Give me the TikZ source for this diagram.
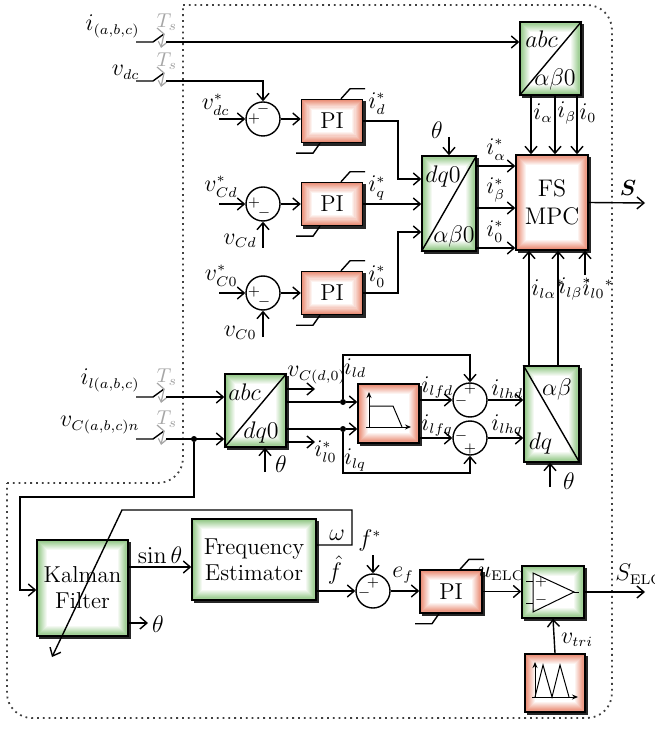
\documentclass[tikz,border=0pt]{standalone}
\usepackage{bm}
\usepackage{tikz}
\usetikzlibrary{arrows.meta,backgrounds}
\DeclareMathSizes{12}{12}{7}{5}

\definecolor{rimred}{rgb}{0.91,0.52,0.42}
\definecolor{rimgreen}{rgb}{0.55,0.77,0.50}

% block fill: shadow, coloured rim fading to a white centre
\newcommand{\blockfill}[2]{%
  \begin{pgfonlayer}{background}
    \fill[black!85] ([shift={(1.2pt,-1.2pt)}]#1.south west) rectangle ([shift={(1.2pt,-1.2pt)}]#1.north east);
    \foreach \k [evaluate=\k as \pc using int(100-10*\k), evaluate=\k as \d using 0.55*\k] in {0,...,10}
      \fill[#2!\pc!white] ([shift={(\d pt,\d pt)}]#1.south west) rectangle ([shift={(-\d pt,-\d pt)}]#1.north east);
  \end{pgfonlayer}}

% sampling switch: #1 name of its output, #2 height of the line
\newcommand{\sampler}[2]{%
  \draw[wire] (136,#2) -- (153,#2) -- (164,#2-8);
  \draw[gray!70, line width=0.6pt, ->, >={Straight Barb[length=2.5pt,width=4pt]}]
    (157,#2-14) -- (164,#2-8) -- (161,#2+6);
  \node[ts] (#1t) at (167,#2-20) {$T_s$};
  \coordinate (#1) at (166,#2);}

% saturation marks of a PI block
\newcommand{\pisat}[1]{%
  \draw[wire] ([xshift=4.5pt]#1.north) -- ++(4.5pt,5pt) -- ++(7.5pt,0pt);
  \draw[wire] ([xshift=-6pt]#1.south) -- ++(-3.5pt,-5pt) -- ++(-8.5pt,0pt);}

\begin{document}
\begin{tikzpicture}[
  x=0.5pt, y=-0.5pt,
  >={Straight Barb[length=3.5pt,width=6pt]},
  every node/.style={inner sep=1pt},
  wire/.style={draw, line width=0.7pt},
  arrow/.style={draw, line width=0.7pt, ->},
  icon/.style={draw, line width=0.5pt, >={Stealth[length=3pt,width=2.5pt]}},
  border/.style={draw=black!75, line width=0.9pt, dotted},
  blk/.style={draw, line width=0.7pt, inner sep=0pt, align=center,
    font=\fontsize{11.5}{13}\selectfont},
  blktxt/.style={font=\fontsize{12}{13}\selectfont},
  sumc/.style={circle, draw, line width=0.7pt, fill=white, minimum size=17pt, inner sep=0pt},
  sgn/.style={font=\fontsize{7}{7}\selectfont, inner sep=0pt},
  lbl/.style={font=\fontsize{12}{14}\selectfont},
  ts/.style={text=gray!70, font=\fontsize{10}{11}\selectfont},
  dot/.style={circle, fill, minimum size=3pt, inner sep=0pt}]

  \useasboundingbox (0,0) rectangle (654,731);

  % controller boundary
  \draw[border, rounded corners=12.5pt] (183,5) -- (612,5) -- (612,718) -- (7,718) -- (7,483);
  \draw[border, rounded corners=12.5pt] (7,483) -- (183,483) -- (183,5);

  % blocks
  \node[blk, minimum width=30.5pt, minimum height=36.5pt] (abcab) at (550.5,58.5) {};
  \node[blk, minimum width=27pt, minimum height=47.5pt] (dqab) at (449,203.5) {};
  \node[blk, minimum width=36pt, minimum height=47.5pt, font=\fontsize{12}{14}\selectfont] (mpc) at (552,202.5) {FS\\MPC};
  \node[blk, minimum width=30.5pt, minimum height=21.5pt] (pid) at (332,121) {PI};
  \node[blk, minimum width=30.5pt, minimum height=21.5pt] (piq) at (332,204) {PI};
  \node[blk, minimum width=30.5pt, minimum height=21.5pt] (pio) at (332,293) {PI};
  \node[blk, minimum width=30.5pt, minimum height=36.5pt] (abcdq) at (255.5,410.5) {};
  \node[blk, minimum width=30.5pt, minimum height=29.5pt] (lpf) at (388.5,413.5) {};
  \node[blk, minimum width=27.5pt, minimum height=48pt] (abdq) at (551.5,414) {};
  \node[blk, minimum width=45.5pt, minimum height=48pt] (kf) at (82.5,588) {Kalman\\Filter};
  \node[blk, minimum width=62pt, minimum height=40.5pt] (fe) at (254,559.5) {Frequency\\Estimator};
  \node[blk, minimum width=31pt, minimum height=21.5pt] (pie) at (451,591.5) {PI};
  \node[blk, minimum width=31pt, minimum height=26pt] (cmp) at (553,592) {};
  \node[blk, minimum width=30pt, minimum height=29pt] (tri) at (555,683) {};

  \blockfill{abcab}{rimgreen} \blockfill{dqab}{rimgreen} \blockfill{abcdq}{rimgreen}
  \blockfill{abdq}{rimgreen} \blockfill{kf}{rimgreen} \blockfill{fe}{rimgreen}
  \blockfill{cmp}{rimgreen}
  \blockfill{mpc}{rimred} \blockfill{pid}{rimred} \blockfill{piq}{rimred}
  \blockfill{pio}{rimred} \blockfill{lpf}{rimred} \blockfill{pie}{rimred}
  \blockfill{tri}{rimred}

  \pisat{pid} \pisat{piq} \pisat{pio} \pisat{pie}

  % transformation blocks: split line and frames
  \draw[wire] (abcab.south west) -- (abcab.north east);
  \node[blktxt] (abcab1) at (541.5,39) {$abc$};
  \node[blktxt] (abcab2) at (555,80) {$\alpha\beta0$};
  \draw[wire] (dqab.south west) -- (dqab.north east);
  \node[blktxt] (dqab1) at (443,177) {$dq0$};
  \node[blktxt] (dqab2) at (454,237) {$\alpha\beta0$};
  \draw[wire] (abcdq.south west) -- (abcdq.north east);
  \node[blktxt] (abcdq1) at (244.5,392) {$abc$};
  \node[blktxt] (abcdq2) at (261,432) {$dq0$};
  \draw[wire] (abdq.north west) -- (abdq.south east);
  \node[blktxt] (abdq1) at (557,389) {$\alpha\beta$};
  \node[blktxt] (abdq2) at (540.5,443) {$dq$};

  % low-pass, comparator and carrier icons
  \draw[icon,->] (369,427) -- (369,392);
  \draw[icon,->] (366,427) -- (411,427);
  \draw[icon] (369,406) -- (393,406) -- (402,427);
  \draw[icon] (533,573) -- (533,612) -- (574,592) -- cycle;
  \draw[icon] (526,581) -- (533,581) (526,603) -- (533,603) (574,592) -- (579,592);
  \node[sgn] (cmpp) at (541,582) {$+$};
  \node[sgn] (cmpm) at (541,600) {$-$};
  \draw[icon,->] (535,697) -- (535,662);
  \draw[icon,->] (532,697) -- (578,697);
  \draw[icon] (535,697) -- (543,665) -- (552,697) -- (560,665) -- (569,697);

  % summing junctions
  \node[sumc] (sdc) at (263,119) {};
  \node[sumc] (scd) at (263,204) {};
  \node[sumc] (sc0) at (263,293) {};
  \node[sumc] (sd) at (470,400) {};
  \node[sumc] (sq) at (470,438) {};
  \node[sumc] (sf) at (373,591) {};
  \node[sgn] (sdcp) at (254,119) {$+$};
  \node[sgn] (sdcm) at (263,109) {$-$};
  \node[sgn] (scdp) at (254,203) {$+$};
  \node[sgn] (scdm) at (264,213) {$-$};
  \node[sgn] (sc0p) at (254,292) {$+$};
  \node[sgn] (sc0m) at (264,302) {$-$};
  \node[sgn] (sdp) at (470,389) {$+$};
  \node[sgn] (sdm) at (461,401) {$-$};
  \node[sgn] (sqm) at (461,436) {$-$};
  \node[sgn] (sqp) at (470,449) {$+$};
  \node[sgn] (sfp) at (373,583) {$+$};
  \node[sgn] (sfm) at (364,593) {$-$};

  % junction dots and free ends
  \node[dot] (j1) at (194,439) {};
  \node[dot] (j2) at (343,402) {};
  \node[dot] (j3) at (343,429) {};
  \coordinate (vdcin) at (219,119);
  \coordinate (vcdin) at (219,204);
  \coordinate (vc0in) at (219,293);
  \coordinate (vcdfb) at (263,248);
  \coordinate (vc0fb) at (263,337);
  \coordinate (thdq) at (449,137);
  \coordinate (sout) at (645,203);
  \coordinate (il0in) at (585,275);
  \coordinate (vcdo) at (315,389);
  \coordinate (ilo) at (315,442);
  \coordinate (thab) at (265,472);
  \coordinate (thad) at (550,487);
  \coordinate (thkf) at (148,623);
  \coordinate (kfw) at (52,657);
  \coordinate (fstar) at (373,555);
  \coordinate (selc) at (645,592);

  % samplers
  \sampler{sw1}{42}
  \sampler{sw2}{81}
  \sampler{sw3}{397}
  \sampler{sw4}{439}

  % current loop
  \draw[arrow] (sw1) -- (sw1 -| abcab.west);
  \draw[arrow] (sw2) -| (sdc.north);
  \draw[arrow] (vdcin) -- (sdc.west);
  \draw[arrow] (sdc.east) -- (pid.west |- sdc.east);
  \draw[arrow] (vcdin) -- (scd.west);
  \draw[arrow] (vcdfb) -- (scd.south);
  \draw[arrow] (scd.east) -- (piq.west);
  \draw[arrow] (vc0in) -- (sc0.west);
  \draw[arrow] (vc0fb) -- (sc0.south);
  \draw[arrow] (sc0.east) -- (pio.west);
  \draw[arrow] (pid.east) -| (398,179) -- (dqab.west |- 0,179);
  \draw[arrow] (piq.east) -- (dqab.west |- piq.east);
  \draw[arrow] (pio.east) -| (398,232) -- (dqab.west |- 0,232);
  \draw[arrow] (thdq) -- (dqab.north);
  \draw[arrow] (dqab.east |- 0,166) -- (mpc.west |- 0,166);
  \draw[arrow] (dqab.east |- 0,208) -- (mpc.west |- 0,208);
  \draw[arrow] (dqab.east |- 0,248) -- (mpc.west |- 0,248);
  \foreach \x in {531,555,577}
    \draw[arrow] (\x,0 |- abcab.south) -- (\x,0 |- mpc.north);
  \draw[arrow] (mpc.east) -- (sout);
  \foreach \x in {529,558}
    \draw[arrow] (\x,0 |- abdq.north) -- (\x,0 |- mpc.south);
  \draw[arrow] (il0in) -- (il0in |- mpc.south);

  % load current path
  \draw[arrow] (sw3) -- (sw3 -| abcdq.west);
  \draw[arrow] (sw4) -- (sw4 -| abcdq.west);
  \draw[arrow] (j1) -- (194,497) -| (20,590) -- (kf.west |- 0,590);
  \draw[arrow] (abcdq.east |- vcdo) -- (vcdo);
  \draw[wire] (abcdq.east |- j2) -- (j2);
  \draw[wire] (abcdq.east |- j3) -- (j3);
  \draw[arrow] (abcdq.east |- ilo) -- (ilo);
  \draw[arrow] (thab) -- (thab |- abcdq.south);
  \draw[arrow] (j2) -- (lpf.west |- j2);
  \draw[arrow] (j3) -- (lpf.west |- j3);
  \draw[arrow] (j2) -- (343,355) -| (sd.north);
  \draw[arrow] (j3) -- (343,473) -| (sq.south);
  \draw[arrow] (lpf.east |- sd.west) -- (sd.west);
  \draw[arrow] (lpf.east |- sq.west) -- (sq.west);
  \draw[arrow] (sd.east) -- (abdq.west |- sd.east);
  \draw[arrow] (sq.east) -- (abdq.west |- sq.east);
  \draw[arrow] (thad) -- (thad |- abdq.south);

  % frequency loop
  \draw[arrow] (kf.east |- 0,567) -- (fe.west |- 0,567);
  \draw[arrow] (kf.east |- thkf) -- (thkf);
  \draw[arrow] (fe.east |- 0,545) -- (352,545) -- (352,510) -- (122,510) -- (kfw);
  \draw[arrow] (fe.east |- sf.west) -- (sf.west);
  \draw[arrow] (fstar) -- (sf.north);
  \draw[arrow] (sf.east) -- (pie.west |- sf.east);
  \draw[arrow] (pie.east) -- (cmp.west |- pie.east);
  \draw[arrow] (cmp.east) -- (selc);
  \draw[arrow] (tri.north) -- (cmp.south);

  % labels
  \node[lbl, anchor=south east] (lia) at (142,40) {$i_{(a,b,c)}$};
  \node[lbl, anchor=south east] (lvdc) at (142,82) {$v_{dc}$};
  \node[lbl, anchor=south east] (lvdcr) at (232,118) {$v^*_{dc}$};
  \node[lbl, anchor=south east] (lvcdr) at (240,200) {$v^*_{Cd}$};
  \node[lbl, anchor=east] (lvcd) at (259,241) {$v_{Cd}$};
  \node[lbl, anchor=south east] (lvc0r) at (240,289) {$v^*_{C0}$};
  \node[lbl, anchor=east] (lvc0) at (259,333) {$v_{C0}$};
  \node[lbl, anchor=south west] (lid) at (366,117) {$i^*_d$};
  \node[lbl, anchor=south west] (liq) at (366,203) {$i^*_q$};
  \node[lbl, anchor=south west] (lio) at (366,290) {$i^*_0$};
  \node[lbl] (lthdq) at (437,130) {$\theta$};
  \node[lbl, anchor=south west] (liar) at (484,163) {$i^*_\alpha$};
  \node[lbl, anchor=south west] (libr) at (484,205) {$i^*_\beta$};
  \node[lbl, anchor=south west] (li0r) at (484,245) {$i^*_0$};
  \node[lbl, anchor=west] (lial) at (531,113) {$i_\alpha$};
  \node[lbl, anchor=west] (libl) at (555,113) {$i_\beta$};
  \node[lbl, anchor=west] (li0l) at (577,113) {$i_0$};
  \node[font=\fontsize{11}{13}\selectfont] (ls) at (628,188) {$\bm{S}$};
  \node[lbl, anchor=west] (lila) at (529,289) {$i_{l\alpha}{}^{*}$};
  \node[lbl, anchor=west] (lilb) at (556,289) {$i_{l\beta}{}^{*}$};
  \node[lbl, anchor=west] (lilo) at (580,289) {$i_{l0}{}^{*}$};

  \node[lbl, anchor=south east] (lila3) at (142,394) {$i_{l(a,b,c)}$};
  \node[lbl, anchor=south east] (lvcn) at (142,436) {$v_{C(a,b,c)n}$};
  \node[lbl, anchor=south west] (lvcd0) at (285,386) {$v_{C(d,0)}$};
  \node[lbl, anchor=west] (lil0) at (312,452) {$i^*_{l0}$};
  \node[lbl] (lthab) at (281,464) {$\theta$};
  \node[lbl] (lild) at (355,368) {$i_{ld}$};
  \node[lbl] (lilq) at (355,460) {$i_{lq}$};
  \node[lbl, anchor=south west] (lilfd) at (419,401) {$i_{lfd}$};
  \node[lbl, anchor=south west] (lilfq) at (419,439) {$i_{lfq}$};
  \node[lbl, anchor=south west] (lilhd) at (489,401) {$i_{lhd}$};
  \node[lbl, anchor=south west] (lilhq) at (489,439) {$i_{lhq}$};
  \node[lbl] (lthad) at (569,481) {$\theta$};

  \node[blktxt, anchor=south] (lsin) at (160,566) {$\sin\theta$};
  \node[lbl] (lthkf) at (158,624) {$\theta$};
  \node[blktxt] (lom) at (337,535) {$\omega$};
  \node[lbl] (lfh) at (335,570) {$\hat f$};
  \node[lbl] (lfs) at (370,540) {$f^*$};
  \node[lbl] (lef) at (403,575) {$e_f$};
  \node[lbl] (luelc) at (501,574) {$u_{\mathrm{ELC}}$};
  \node[lbl, anchor=west] (lselc) at (613,574) {$S_{\mathrm{ELC}}$};
  \node[lbl] (lvtri) at (577,640) {$v_{tri}$};
\end{tikzpicture}
\end{document}
